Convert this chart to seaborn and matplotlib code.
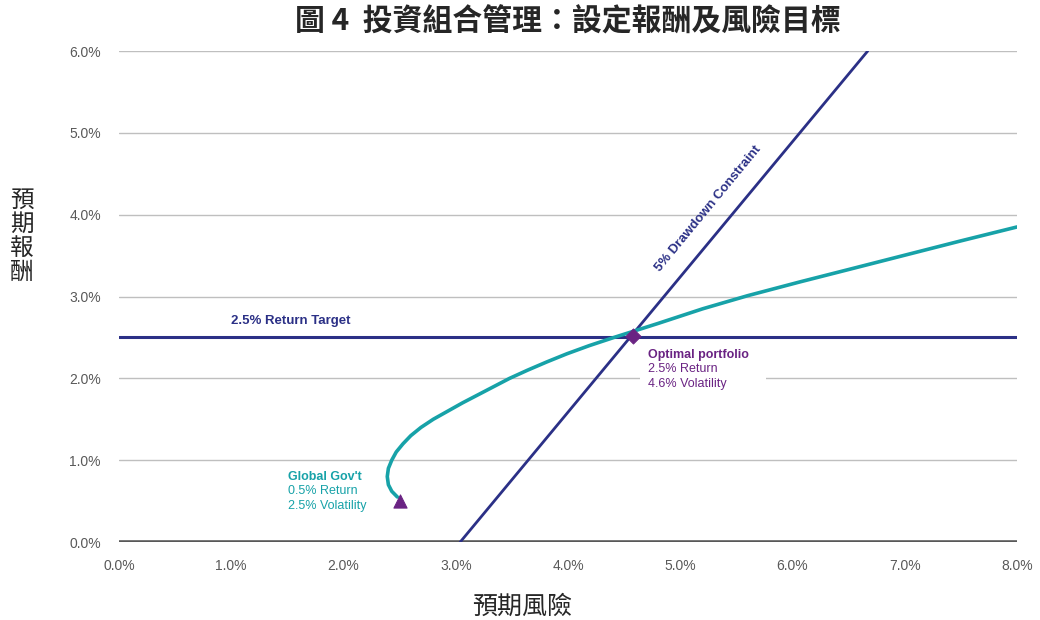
import matplotlib
matplotlib.use("Agg")
import matplotlib.pyplot as plt
from matplotlib.patches import Rectangle
import seaborn as sns
import pandas as pd
from matplotlib.ticker import FuncFormatter

# Efficient frontier (expected risk %, expected return %)
frontier_risk = [2.48, 2.43, 2.40, 2.39, 2.40, 2.43, 2.47, 2.53, 2.60, 2.69, 2.80, 2.93,
                 3.06, 3.20, 3.34, 3.48, 3.64, 3.81, 3.99, 4.19, 4.41, 4.80, 5.20, 5.60,
                 6.07, 6.50, 7.00, 7.50, 8.00]
frontier_return = [0.55, 0.62, 0.70, 0.80, 0.90, 1.00, 1.10, 1.20, 1.30, 1.40, 1.50, 1.60,
                   1.70, 1.80, 1.90, 2.00, 2.10, 2.20, 2.30, 2.40, 2.50, 2.67, 2.85, 3.01,
                   3.18, 3.33, 3.505, 3.68, 3.85]

# 5% drawdown constraint line endpoints
drawdown_risk = [3.04, 6.67]
drawdown_return = [0.0, 6.0]

# Return target
target_return = 2.5

# Highlighted portfolios
gov_point = (2.5, 0.5)
optimal_point = (4.58, 2.52)

x_ticks = [0, 1, 2, 3, 4, 5, 6, 7, 8]
y_ticks = [0, 1, 2, 3, 4, 5, 6]

title_text = "圖 4  投資組合管理：設定報酬及風險目標"
x_label = "預期風險"
y_label = "預\n期\n報\n酬"

NAVY = "#2B3086"
TEAL = "#17A2A8"
PURPLE = "#6A2383"
GRID = "#BFBFBF"
TICK = "#595959"

sns.set_style("white")
plt.rcParams["font.family"] = ["Liberation Sans", "DejaVu Sans"]

fig = plt.figure(figsize=(10.4, 6.2), dpi=100)
ax = fig.add_axes([0.1144, 0.1258, 0.8635, 0.7919])

ax.set_xlim(0, 8)
ax.set_ylim(0, 6)

for yv in y_ticks[1:]:
    ax.axhline(yv, color=GRID, lw=1.0, zorder=0)
ax.axhline(0, color="#595959", lw=2.6, zorder=1)

frontier = pd.DataFrame({"risk": frontier_risk, "ret": frontier_return})
drawdown = pd.DataFrame({"risk": drawdown_risk, "ret": drawdown_return})

ax.axhline(target_return, color=NAVY, lw=2.2, zorder=2)
sns.lineplot(data=drawdown, x="risk", y="ret", ax=ax, color=NAVY, lw=2.0,
             sort=False, estimator=None, errorbar=None, zorder=3)
sns.lineplot(data=frontier, x="risk", y="ret", ax=ax, color=TEAL, lw=2.6,
             sort=False, estimator=None, errorbar=None, zorder=4)

pts = pd.DataFrame({"risk": [gov_point[0]], "ret": [gov_point[1]]})
sns.scatterplot(data=pts, x="risk", y="ret", ax=ax, marker="^", s=90,
                color=PURPLE, edgecolor=PURPLE, zorder=5)
pts2 = pd.DataFrame({"risk": [optimal_point[0]], "ret": [optimal_point[1]]})
sns.scatterplot(data=pts2, x="risk", y="ret", ax=ax, marker="D", s=60,
                color=PURPLE, edgecolor=PURPLE, zorder=6)

for s in ax.spines.values():
    s.set_visible(False)

ax.set_xticks(x_ticks)
ax.set_yticks(y_ticks)
pct = FuncFormatter(lambda v, _: f"{v:.1f}%")
ax.xaxis.set_major_formatter(pct)
ax.yaxis.set_major_formatter(pct)
ax.tick_params(axis="both", length=0, labelsize=10, labelcolor=TICK)
ax.tick_params(axis="y", pad=13)
ax.tick_params(axis="x", pad=12)
ax.set_xlabel("")
ax.set_ylabel("")

# Annotations
ax.text(1.0, 2.70, "2.5% Return Target", color=NAVY, fontsize=9.5,
        fontweight="bold", va="center", ha="left")
ax.text(5.25, 4.07, "5% Drawdown Constraint", color=NAVY, fontsize=9.5,
        fontweight="bold", rotation=50.5, va="center", ha="center",
        rotation_mode="anchor")

# white backing behind the optimal-portfolio label
ax.add_patch(Rectangle((4.64, 1.84), 1.12, 0.52, facecolor="white",
                       edgecolor="none", zorder=1.5))
ax.text(4.71, 2.29, "Optimal portfolio", color=PURPLE, fontsize=9,
        fontweight="bold", va="center", ha="left", zorder=7)
ax.text(4.71, 2.11, "2.5% Return", color=PURPLE, fontsize=9,
        va="center", ha="left", zorder=7)
ax.text(4.71, 1.93, "4.6% Volatility", color=PURPLE, fontsize=9,
        va="center", ha="left", zorder=7)

ax.text(1.51, 0.80, "Global Gov't", color=TEAL, fontsize=9,
        fontweight="bold", va="center", ha="left")
ax.text(1.51, 0.62, "0.5% Return", color=TEAL, fontsize=9,
        va="center", ha="left")
ax.text(1.51, 0.44, "2.5% Volatility", color=TEAL, fontsize=9,
        va="center", ha="left")

cjk = ["Noto Sans CJK TC", "DejaVu Sans"]
fig.text(0.546, 0.966, title_text, family=cjk, fontsize=21.5, fontweight="bold",
         ha="center", va="center")
fig.text(0.502, 0.022, x_label, family=cjk, fontsize=18, ha="center",
         va="center")
fig.text(0.021, 0.619, y_label, family=cjk, fontsize=17, ha="center",
         va="center", linespacing=1.05)

fig.savefig("out.png", dpi=100)
